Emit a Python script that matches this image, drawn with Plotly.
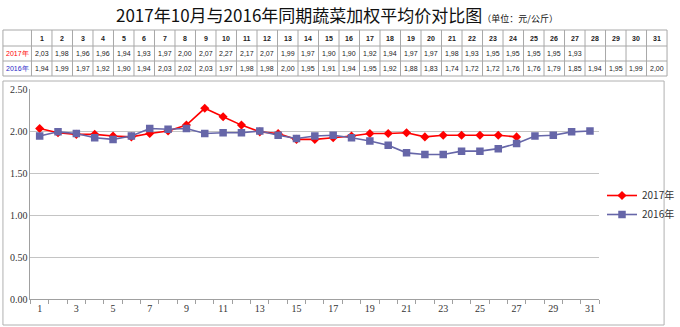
import plotly.graph_objects as go

days = list(range(1, 32))
day_labels = [str(d) for d in days]
y2017 = [2.03, 1.98, 1.96, 1.96, 1.94, 1.93, 1.97, 2.00, 2.07, 2.27, 2.17, 2.07, 1.99, 1.97,
         1.90, 1.90, 1.92, 1.94, 1.97, 1.97, 1.98, 1.93, 1.95, 1.95, 1.95, 1.95, 1.93,
         None, None, None, None]
y2016 = [1.94, 1.99, 1.97, 1.92, 1.90, 1.94, 2.03, 2.02, 2.03, 1.97, 1.98, 1.98, 2.00, 1.95,
         1.91, 1.94, 1.95, 1.92, 1.88, 1.83, 1.74, 1.72, 1.72, 1.76, 1.76, 1.79, 1.85,
         1.94, 1.95, 1.99, 2.00]
series_names = ["2017年", "2016年"]
yticks = [0, 0.5, 1.0, 1.5, 2.0, 2.5]

W, H = 680, 327
def px(x): return x / W
def py(y): return 1 - y / H

RED = "#FF0000"
BLUE = "#6666A8"
GRID = "#A8A8A8"

def fmt(v):
    return "" if v is None else f"{v:.2f}".replace(".", ",")

shapes = []
annotations = []

# ---- data table (drawn with shapes + annotations in paper coordinates)
tx0, tx1, tfirst = 3, 678, 32
row_y = [30, 46, 61, 76]
ncol = len(days)
cw = (tx1 - tfirst) / ncol
col_x = [tx0, tfirst] + [tfirst + cw * (k + 1) for k in range(ncol)]
for yy in row_y:
    shapes.append(dict(type="line", xref="paper", yref="paper", x0=px(tx0), x1=px(tx1),
                       y0=py(yy), y1=py(yy), line=dict(color=GRID, width=1)))
for xx in col_x:
    shapes.append(dict(type="line", xref="paper", yref="paper", x0=px(xx), x1=px(xx),
                       y0=py(row_y[0]), y1=py(row_y[-1]), line=dict(color=GRID, width=1)))

def cell(text, ci, ri, color="#222", bold=False, size=7):
    x0, x1 = col_x[ci], col_x[ci + 1]
    y0, y1 = row_y[ri], row_y[ri + 1]
    annotations.append(dict(xref="paper", yref="paper", x=px((x0 + x1) / 2), y=py((y0 + y1) / 2),
                            xanchor="center", yanchor="middle", showarrow=False,
                            text=("<b>%s</b>" % text) if bold else text,
                            font=dict(family="Liberation Sans, Arial", size=size, color=color)))

for k, d in enumerate(day_labels):
    cell(d, k + 1, 0, bold=True)
label_colors = [RED, "#2828C8"]
for r, (name, vals) in enumerate(zip(series_names, [y2017, y2016])):
    cell(name, 0, r + 1, color=label_colors[r], size=7)
    for k, v in enumerate(vals):
        if v is not None:
            cell(fmt(v), k + 1, r + 1)

fig = go.Figure()
fig.add_trace(go.Scatter(
    x=days, y=y2017, name=series_names[0], mode="lines+markers",
    line=dict(color=RED, width=1.6),
    marker=dict(symbol="diamond", size=7, color=RED),
    connectgaps=False,
))
fig.add_trace(go.Scatter(
    x=days, y=y2016, name=series_names[1], mode="lines+markers",
    line=dict(color=BLUE, width=1.6),
    marker=dict(symbol="square", size=7.5, color=BLUE),
))

# outer chart frame
shapes.append(dict(type="rect", xref="paper", yref="paper",
                   x0=px(3), x1=px(675), y0=py(325), y1=py(81),
                   line=dict(color="#B0B0B0", width=1)))

annotations.append(dict(
    xref="paper", yref="paper", x=px(343), y=py(15), xanchor="center", yanchor="middle",
    showarrow=False,
    text="2017年10月与2016年同期蔬菜加权平均价对比图<span style='font-size:9px'>（单位：元/公斤）</span>",
    font=dict(family="Noto Sans CJK SC", size=17, color="#111")))

fig.update_layout(
    width=W, height=H,
    margin=dict(l=0, r=0, t=0, b=0),
    paper_bgcolor="white", plot_bgcolor="white",
    xaxis=dict(domain=[px(31), px(609)], range=[0.5, 31.5], automargin=False,
               tickvals=days[::2], ticktext=day_labels[::2], ticks="",
               showgrid=False, zeroline=False, showline=True, linecolor="#A0A0A0",
               tickfont=dict(family="Liberation Serif, DejaVu Serif", size=10, color="#333"),
               minor=dict(ticks="outside", tick0=0.5, dtick=1, ticklen=4, tickcolor="#A0A0A0",
                          showgrid=False)),
    yaxis=dict(domain=[py(299), py(89)], range=[0, 2.5], automargin=False,
               tickvals=yticks, ticktext=[f"{v:.2f}" for v in yticks],
               showgrid=True, gridcolor="#C4C4C4", gridwidth=1, zeroline=False,
               showline=True, linecolor="#A0A0A0", ticks="",
               tickfont=dict(family="Liberation Serif, DejaVu Serif", size=10, color="#333")),
    legend=dict(x=px(612), y=py(181), xanchor="left", yanchor="top",
                font=dict(family="Noto Sans CJK SC", size=10, color="#333"),
                bgcolor="rgba(0,0,0,0)", tracegroupgap=0, itemwidth=30),
    showlegend=True,
    shapes=shapes,
    annotations=annotations,
)

fig.write_html("out.html")
